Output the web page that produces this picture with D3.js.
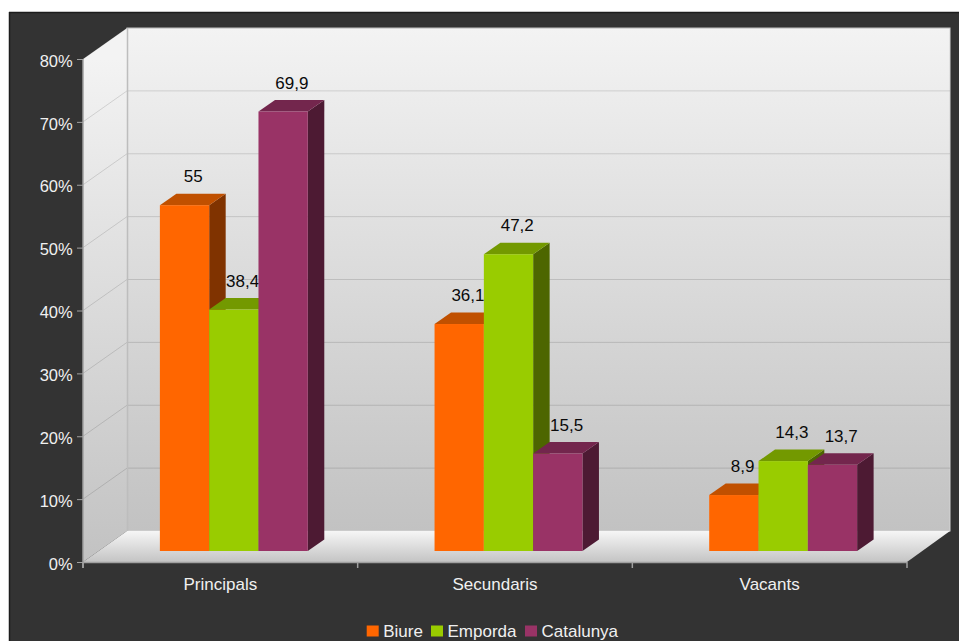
<!DOCTYPE html>
<html><head><meta charset="utf-8">
<script src="https://cdn.jsdelivr.net/npm/d3@7/dist/d3.min.js"></script>
<style>
html,body{margin:0;padding:0;background:#fff;}
svg{display:block;}
text{font-family:"Liberation Sans",Arial,Helvetica,sans-serif;font-size:17px;}
</style></head>
<body>
<script>
const categories = ["Principals", "Secundaris", "Vacants"];
const seriesNames = ["Biure", "Emporda", "Catalunya"];
const biure = [55, 36.1, 8.9];
const emporda = [38.4, 47.2, 14.3];
const catalunya = [69.9, 15.5, 13.7];
const valueLabels = [["55","36,1","8,9"],["38,4","47,2","14,3"],["69,9","15,5","13,7"]];
const yTicks = [0,10,20,30,40,50,60,70,80];
const seriesColors = [
  {front:"#ff6600", top:"#c05000", side:"#803300"},
  {front:"#99cc00", top:"#739900", side:"#4d6600"},
  {front:"#993366", top:"#73264d", side:"#4d1a33"}
];
const seriesValues = [biure, emporda, catalunya];

const W = 959, H = 641;
const svg = d3.select("body").append("svg").attr("width", W).attr("height", H);

// dark panel
svg.append("rect").attr("x",9).attr("y",12).attr("width",W).attr("height",H).attr("fill","#333333");
svg.append("line").attr("x1",9.5).attr("y1",12).attr("x2",9.5).attr("y2",H).attr("stroke","#1c1c1c").attr("stroke-width",1.5);
svg.append("line").attr("x1",9).attr("y1",12.5).attr("x2",W).attr("y2",12.5).attr("stroke","#1c1c1c").attr("stroke-width",1.5);

const x0 = 83, x1 = 907;
const DX = 44, DY = -31;
const y = d3.scaleLinear().domain([0,80]).range([562,59]);
const x = d3.scaleBand().domain(categories).range([x0,x1]);

const defs = svg.append("defs");
function grad(id, c1, c2, x1_, y1_, x2_, y2_){
  const g = defs.append("linearGradient").attr("id",id)
    .attr("gradientUnits","userSpaceOnUse")
    .attr("x1",x1_).attr("y1",y1_).attr("x2",x2_).attr("y2",y2_);
  g.append("stop").attr("offset","0").attr("stop-color",c1);
  g.append("stop").attr("offset","1").attr("stop-color",c2);
}
grad("wallG","#f3f3f3","#c2c2c2",0,y(80)+DY,0,y(0)+DY);
grad("lwallG","#f3f3f3","#c2c2c2",0,y(80),0,y(0));
grad("floorG","#f6f6f6","#c4c4c4",0,y(0)+DY,0,y(0));

// back wall
svg.append("rect").attr("x",x0+DX).attr("y",y(80)+DY).attr("width",950-(x0+DX))
  .attr("height",y(0)-y(80)).attr("fill","url(#wallG)").attr("stroke","#d4d4d4").attr("stroke-width",1);
// left wall
svg.append("path").attr("d",`M${x0},${y(80)}L${x0+DX},${y(80)+DY}L${x0+DX},${y(0)+DY}L${x0},${y(0)}Z`)
  .attr("fill","url(#lwallG)");
// grid lines
yTicks.forEach(t=>{
  if(t===0) return;
  svg.append("line").attr("x1",x0+DX).attr("x2",950).attr("y1",y(t)+DY).attr("y2",y(t)+DY)
    .attr("stroke","rgba(0,0,0,0.13)").attr("stroke-width",1);
  svg.append("line").attr("x1",x0).attr("x2",x0+DX).attr("y1",y(t)).attr("y2",y(t)+DY)
    .attr("stroke","rgba(0,0,0,0.13)").attr("stroke-width",1);
});
svg.append("line").attr("x1",x0+DX+0.5).attr("x2",x0+DX+0.5).attr("y1",y(80)+DY).attr("y2",y(0)+DY)
  .attr("stroke","#bdbdbd").attr("stroke-width",1.5);
// floor
svg.append("path").attr("d",`M${x0},${y(0)}L${x0+DX},${y(0)+DY}L${950},${y(0)+DY}L${x1},${y(0)}Z`)
  .attr("fill","url(#floorG)");

// axes
svg.append("line").attr("x1",x0).attr("x2",x0).attr("y1",y(80)).attr("y2",568).attr("stroke","#a0a0a0").attr("stroke-width",1.5);
svg.append("line").attr("x1",x0).attr("x2",x1).attr("y1",y(0)+0.5).attr("y2",y(0)+0.5).attr("stroke","#a0a0a0").attr("stroke-width",1.5);
yTicks.forEach(t=>{
  svg.append("line").attr("x1",77).attr("x2",x0).attr("y1",y(t)+0.5).attr("y2",y(t)+0.5).attr("stroke","#a0a0a0").attr("stroke-width",1);
  svg.append("text").attr("x",72.7).attr("y",y(t)+7.7).attr("text-anchor","end")
    .style("font-size","16.5px").attr("fill","#f0f0f0").text(t+"%");
});
[x0, ...categories.map(c=>x(c)+x.bandwidth())].forEach(px=>{
  svg.append("line").attr("x1",px).attr("x2",px).attr("y1",y(0)).attr("y2",568).attr("stroke","#a0a0a0").attr("stroke-width",1.5);
});
categories.forEach(c=>{
  svg.append("text").attr("x",x(c)+x.bandwidth()/2).attr("y",590).attr("text-anchor","middle")
    .attr("fill","#f0f0f0").text(c);
});

// bars
const fDY = -11;                  // front face offset into depth
const bDX = 16.5, bDY = -11.5;    // bar depth
const barW = 49.3;
const inner = d3.scaleBand().domain(seriesNames).range([0, barW*3]);
categories.forEach((c,ci)=>{
  const gx = x(c) + x.bandwidth()/2 + 13.5 - barW*1.5;
  seriesNames.forEach((s,si)=>{
    const v = seriesValues[si][ci];
    const col = seriesColors[si];
    const bx = gx + inner(s);
    const by = y(v) + fDY;
    const base = y(0) + fDY;
    const w = inner.bandwidth();
    svg.append("path").attr("d",`M${bx+w},${by}L${bx+w+bDX},${by+bDY}L${bx+w+bDX},${base+bDY}L${bx+w},${base}Z`).attr("fill",col.side);
    svg.append("path").attr("d",`M${bx},${by}L${bx+bDX},${by+bDY}L${bx+w+bDX},${by+bDY}L${bx+w},${by}Z`).attr("fill",col.top);
    svg.append("rect").attr("x",bx).attr("y",by).attr("width",w).attr("height",base-by).attr("fill",col.front);
    svg.append("text").attr("x",bx+w/2+bDX/2+0.5).attr("y",by+bDY-11.5).attr("text-anchor","middle")
      .attr("fill","#0a0a0a").text(valueLabels[si][ci]);
  });
});

// legend
const legendX = [366.7, 431, 525];
seriesNames.forEach((s,i)=>{
  svg.append("rect").attr("x",legendX[i]).attr("y",625.5).attr("width",12).attr("height",11).attr("fill",seriesColors[i].front);
  svg.append("text").attr("x",legendX[i]+16.5).attr("y",637).attr("fill","#f0f0f0").text(s);
});
</script>
</body></html>
